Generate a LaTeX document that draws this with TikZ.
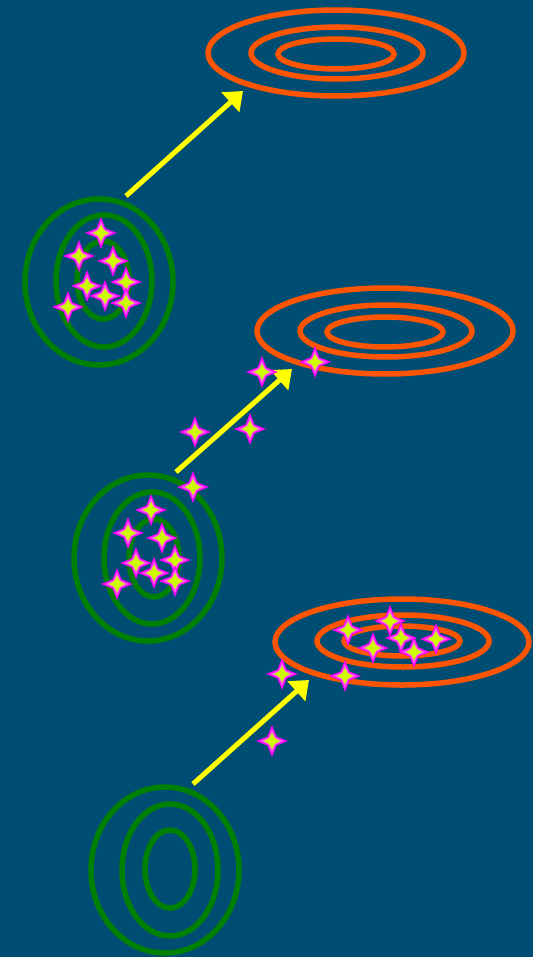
\documentclass[tikz,border=0pt]{standalone}
\usetikzlibrary{arrows.meta}
\definecolor{bg}{RGB}{0,77,115}
\definecolor{grn}{RGB}{0,128,0}
\definecolor{org}{RGB}{255,85,0}
\definecolor{yel}{RGB}{255,255,0}
\definecolor{mag}{RGB}{255,0,255}
\definecolor{pnk}{RGB}{255,90,235}
\definecolor{lime}{RGB}{205,255,0}
\tikzset{
  gring/.style={draw=grn,line width=5.5pt},
  oring/.style={draw=org,line width=5.5pt},
  arr/.style={draw=yel,line width=5pt,-{Triangle[length=17pt,width=26pt]}},
  spark/.pic={
    \fill[mag] (0,16)--(4.5,4.5)--(16,0)--(4.5,-4.5)--(0,-16)--(-4.5,-4.5)--(-16,0)--(-4.5,4.5)--cycle;
    \fill[pnk] (0,12)--(3.6,3.6)--(12,0)--(3.6,-3.6)--(0,-12)--(-3.6,-3.6)--(-12,0)--(-3.6,3.6)--cycle;
    \fill[lime] (0,8)--(2.8,2.8)--(8,0)--(2.8,-2.8)--(0,-8)--(-2.8,-2.8)--(-8,0)--(-2.8,2.8)--cycle;
  }
}
\begin{document}
\begin{tikzpicture}[x=1pt,y=-1pt]
\useasboundingbox (0,0) rectangle (532,957);
\fill[bg] (-6,-6) rectangle (538,963);
% ---- top group
\draw[oring] (336,53) ellipse [x radius=128,y radius=43];
\draw[oring] (337,53) ellipse [x radius=86,y radius=26];
\draw[oring] (336,54) ellipse [x radius=58,y radius=15];
\draw[gring] (99,282) ellipse [x radius=74,y radius=83];
\draw[gring] (104,281) ellipse [x radius=48,y radius=66];
\draw[gring] (103,280) ellipse [x radius=26,y radius=39];
\coordinate (a1s) at (126,196);
\coordinate (a1e) at (243,91);
\draw[arr] (a1s) -- (a1e);
\foreach \p in {(101,233),(79,256),(113,261),(126,282),(87,286),(105,296),(126,303),(68,307)}
  \pic at \p {spark};
% ---- middle group
\draw[oring] (385,331) ellipse [x radius=128,y radius=43];
\draw[oring] (386,331) ellipse [x radius=86,y radius=26];
\draw[oring] (385,332) ellipse [x radius=58,y radius=15];
\draw[gring] (148,558) ellipse [x radius=74,y radius=83];
\draw[gring] (152,558) ellipse [x radius=48,y radius=66];
\draw[gring] (154,558) ellipse [x radius=25,y radius=39];
\coordinate (a2s) at (176,472);
\coordinate (a2e) at (292,369);
\draw[arr] (a2s) -- (a2e);
\foreach \p in {(262,372),(315,362),(195,432),(250,429),(193,487),(151,510),(128,533),(162,538),(175,560),(136,563),(154,573),(175,581),(117,584)}
  \pic at \p {spark};
% ---- bottom group
\draw[oring] (402,642) ellipse [x radius=127,y radius=43];
\draw[oring] (403,641) ellipse [x radius=86,y radius=26];
\draw[oring] (402,641) ellipse [x radius=58,y radius=15];
\draw[gring] (165,870) ellipse [x radius=74,y radius=83];
\draw[gring] (170,870) ellipse [x radius=48,y radius=66];
\draw[gring] (170,869) ellipse [x radius=25,y radius=39];
\coordinate (a3s) at (193,784);
\coordinate (a3e) at (309,680);
\draw[arr] (a3s) -- (a3e);
\foreach \p in {(348,630),(390,621),(401,638),(373,648),(436,639),(414,652),(282,674),(345,676),(272,741)}
  \pic at \p {spark};
\end{tikzpicture}
\end{document}
